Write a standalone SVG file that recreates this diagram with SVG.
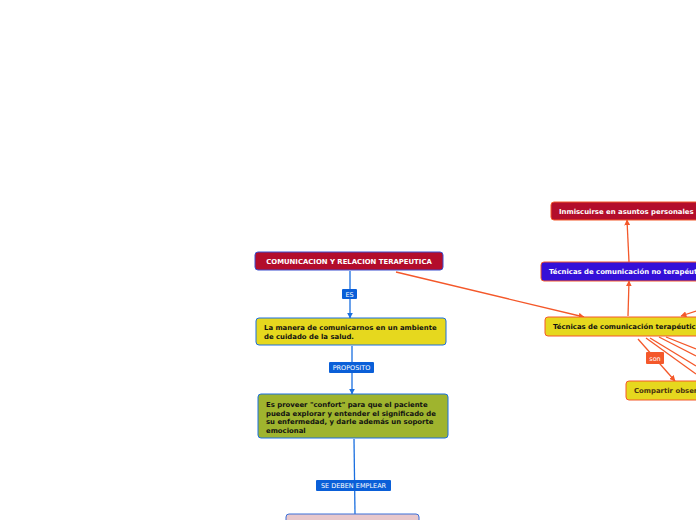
<svg xmlns="http://www.w3.org/2000/svg" width="696" height="520" viewBox="0 0 696 520">
<defs>
<style>
.t{font-family:"DejaVu Sans","Verdana",sans-serif;font-weight:bold;font-size:6.9px}
.lbl{font-family:"DejaVu Sans","Verdana",sans-serif;font-size:6.5px;fill:#fff}
.bl{stroke:#1a6fe0;stroke-width:1.3;fill:none}
.or{stroke:#f4582a;stroke-width:1.3;fill:none}
</style>
<marker id="ab" viewBox="0 0 10 10" refX="9" refY="5" markerWidth="6" markerHeight="6" orient="auto" markerUnits="userSpaceOnUse"><path d="M0,0L10,5L0,10z" fill="#1a6fe0"/></marker>
<marker id="ao" viewBox="0 0 10 10" refX="9" refY="5" markerWidth="6" markerHeight="6" orient="auto" markerUnits="userSpaceOnUse"><path d="M0,0L10,5L0,10z" fill="#f4582a"/></marker>
</defs>
<rect width="696" height="520" fill="#fff"/>
<g id="connectors">
<path class="bl" d="M350,271L350,318" marker-end="url(#ab)"/>
<path class="bl" d="M352,346L352,394" marker-end="url(#ab)"/>
<path class="bl" d="M354,439L355,514"/>
<path class="or" d="M396,272L584,317" marker-end="url(#ao)"/>
<path class="or" d="M628,316L629,281" marker-end="url(#ao)"/>
<path class="or" d="M629,262L627,220" marker-end="url(#ao)"/>
<path class="or" d="M696,311L681,316" marker-end="url(#ao)"/>
<path class="or" d="M638,339L675,381" marker-end="url(#ao)"/>
<path class="or" d="M646,338L696,374"/>
<path class="or" d="M650,338L696,366"/>
<path class="or" d="M659,337L696,356"/>
<path class="or" d="M666,337L696,349"/>
<g id="lbl-es"><rect x="342" y="289" width="15" height="10" rx="1" fill="#0a5fd8"/><text class="lbl" x="349.5" y="296.5" text-anchor="middle">ES</text></g>
<g id="lbl-prop"><rect x="329" y="362" width="45" height="11" rx="1" fill="#0a5fd8"/><text class="lbl" x="351.5" y="370" text-anchor="middle">PROPOSITO</text></g>
<g id="lbl-se"><rect x="316" y="480" width="75" height="11" rx="1" fill="#0a5fd8"/><text class="lbl" x="353.5" y="488" text-anchor="middle">SE DEBEN EMPLEAR</text></g>
<g id="lbl-son"><rect x="646" y="352" width="18" height="12" rx="1" fill="#f4582a"/><text class="lbl" x="655" y="360.5" text-anchor="middle">son</text></g>
</g>
<g id="n1"><rect x="255" y="252" width="188" height="18" rx="3" fill="#b30d2b" stroke="#3b4fd0" stroke-width="1"/><text class="t" x="349" y="263.5" text-anchor="middle" fill="#fff">COMUNICACION Y RELACION TERAPEUTICA</text></g>
<g id="n2"><rect x="256" y="318" width="190" height="27" rx="3" fill="#e6d81e" stroke="#1a6fe0" stroke-width="1"/><text class="t" fill="#111"><tspan x="264" y="330">La manera de comunicarnos en un ambiente</tspan><tspan x="264" y="339">de cuidado de la salud.</tspan></text></g>
<g id="n3"><rect x="258" y="394" width="190" height="44" rx="3" fill="#9fb42e" stroke="#1a6fe0" stroke-width="1"/><text class="t" fill="#111"><tspan x="266" y="407">Es proveer "confort" para que el paciente</tspan><tspan x="266" y="415.5">pueda explorar y entender el significado de</tspan><tspan x="266" y="424">su enfermedad, y darle además un soporte</tspan><tspan x="266" y="432.5">emocional</tspan></text></g>
<g id="n4"><rect x="286" y="514" width="133" height="20" rx="3" fill="#e8c8cc" stroke="#3b6fd8" stroke-width="1"/></g>
<g id="n5"><rect x="545" y="317" width="160" height="19" rx="3" fill="#e6d81e" stroke="#f4582a" stroke-width="1"/><text class="t" x="553" y="329" fill="#111">Técnicas de comunicación terapéuticas</text></g>
<g id="n6"><rect x="541" y="262" width="170" height="19" rx="3" fill="#3510d8" stroke="#f4582a" stroke-width="1"/><text class="t" x="549" y="274" fill="#fff">Técnicas de comunicación no terapéuticas</text></g>
<g id="n7"><rect x="551" y="202" width="160" height="18" rx="3" fill="#b30d2b" stroke="#f4582a" stroke-width="1"/><text class="t" x="559" y="213.5" fill="#fff">Inmiscuirse en asuntos personales</text></g>
<g id="n8"><rect x="626" y="381" width="90" height="19" rx="3" fill="#e6d81e" stroke="#f4582a" stroke-width="1"/><text class="t" x="634" y="393" fill="#4a3210">Compartir observaciones</text></g>
</svg>
